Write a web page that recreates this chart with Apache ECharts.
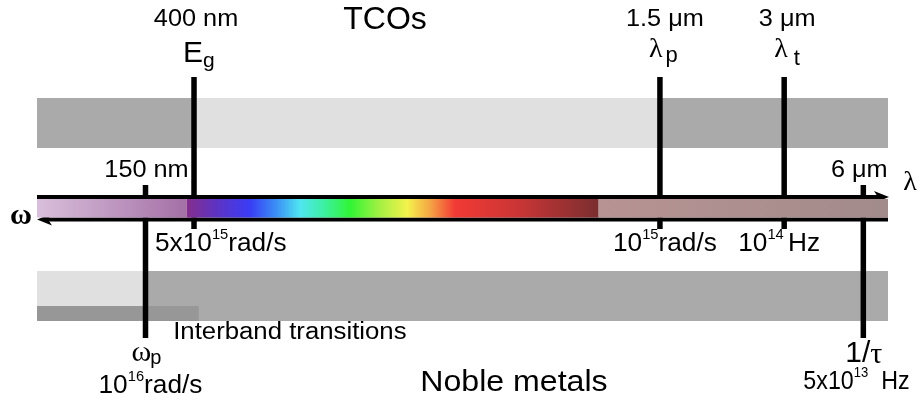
<!DOCTYPE html>
<html>
<head>
<meta charset="utf-8">
<script src="https://cdn.jsdelivr.net/npm/echarts@6/dist/echarts.min.js"></script>
<style>
  html, body { margin: 0; padding: 0; background: #fff; }
  #main { width: 919px; height: 403px; }
</style>
</head>
<body>
<div id="main"></div>
<script>
// ---------------------------------------------------------------
// Data: positions along a schematic spectral axis
// (0 = short-wavelength / high-frequency end, 100 = long-wavelength end)
// ---------------------------------------------------------------
const markerSymbols   = [['ω', 'p'], ['E', 'g'], ['λ', 'p'], ['λ', 't'], ['1/τ', '']];
const markerMaterial  = ['metal', 'tco', 'tco', 'tco', 'metal'];
const markerPos       = [12.75, 18.45, 73.2, 87.8, 97.1];
const wavelengthTicks = ['150 nm', '400 nm', '1.5 μm', '3 μm', '6 μm'];
// [mantissa, exponent, unit]
const frequencyTicks  = [['10', '16', 'rad/s'], ['5x10', '15', 'rad/s'], ['10', '15', 'rad/s'],
                         ['10', '14', 'Hz'], ['5x10', '13', 'Hz']];

// TCO behaviour band
const tcoEdges  = [0, 18.45, 73.2, 100];
const tcoState  = ['absorbing', 'transparent', 'reflecting'];
// Noble-metal behaviour band
const metalEdges = [0, 12.75, 100];
const metalState = ['transparent', 'reflecting'];
const interbandRange = [0, 19.0];

// Spectrum strip: UV / visible / IR
const uvStops = [[0, '#d9bfdb'], [17.6, '#a470a6']];
const visibleStops = [[17.6, '#852e8c'], [21, '#5f33c2'], [25, '#3a3cf5'], [28, '#3a8cf5'],
                      [30.9, '#50e5f2'], [33.8, '#3cf0a0'], [36.8, '#30f535'], [40.3, '#a5f044'],
                      [43.5, '#f3f24c'], [46.2, '#f5a545'], [49.1, '#f23a35'], [56.8, '#c83535'],
                      [66.0, '#7a2e30']];
const irStops = [[66.0, '#b89393'], [100, '#a28b8b']];

const labelTitles = ['TCOs', 'Noble metals', 'Interband transitions'];
const axisSymbols = ['ω', 'λ'];

// ---------------------------------------------------------------
// Layout & styles
// ---------------------------------------------------------------
const SANS = '"Liberation Sans", Arial, sans-serif';
const SERIF = '"Liberation Serif", "Times New Roman", serif';
const shade = { absorbing: '#aaaaaa', reflecting: '#aaaaaa', transparent: '#e0e0e0' };
const ROW = {
  tcoTop: 98, tcoBottom: 148,
  metalTop: 271, metalBottom: 321, interbandTop: 306,
  axisTop: 197, axisBottom: 219.5,
  stripTop: 199, stripBottom: 217.5,
  tcoLineTop: 77, tcoLineBottom: 229,
  metalLineTop: 185, metalLineBottom: 338
};

const measureCtx = document.createElement('canvas').getContext('2d');
function measure(text, size, family, weight) {
  measureCtx.font = (weight || 'normal') + ' ' + size + 'px ' + family;
  return measureCtx.measureText(text).width;
}

// Lay out text pieces side by side (for sub/superscripts)
function inlineText(pieces, x, y, align, scaleX) {
  let w = 0;
  const pos = [];
  pieces.forEach(function (p) {
    w += p.gap || 0;
    pos.push(w);
    w += measure(p.t, p.size, p.family || SANS, p.weight);
  });
  const start = align === 'center' ? -w / 2 : (align === 'right' ? -w : 0);
  return {
    type: 'group', x: x, y: y, scaleX: scaleX || 1,
    children: pieces.map(function (p, i) {
      return {
        type: 'text', x: start + pos[i], y: p.dy || 0,
        style: {
          text: p.t, fontSize: p.size, fontFamily: p.family || SANS,
          fontWeight: p.weight || 'normal', fill: '#000',
          align: 'left', verticalAlign: 'middle'
        }
      };
    })
  };
}

function segRect(api, x0, x1, top, bottom) {
  const a = api.coord([x0, top]);
  const b = api.coord([x1, bottom]);
  return { x: a[0], y: a[1], width: b[0] - a[0], height: b[1] - a[1] };
}

function gradientSeg(stops) {
  const x0 = stops[0][0], x1 = stops[stops.length - 1][0];
  return new echarts.graphic.LinearGradient(0, 0, 1, 0, stops.map(function (s) {
    return { offset: (s[0] - x0) / (x1 - x0), color: s[1] };
  }));
}

function arrowHead(tipX, y, dir) {
  const L = 15, H = 6, N = 11;
  return [[tipX, y], [tipX - dir * L, y - H], [tipX - dir * N, y], [tipX - dir * L, y + H]];
}

const chart = echarts.init(document.getElementById('main'), null, { renderer: 'canvas' });

const option = {
  animation: false,
  backgroundColor: '#fff',
  grid: { left: 37, right: 31, top: 0, bottom: 0 },
  xAxis: { type: 'value', min: 0, max: 100, show: false },
  yAxis: { type: 'value', min: 0, max: 403, inverse: true, show: false },
  series: [
    // TCO band
    {
      type: 'custom', silent: true, z: 1,
      data: tcoState.map(function (s, i) { return [tcoEdges[i], tcoEdges[i + 1], i]; }),
      renderItem: function (params, api) {
        return { type: 'rect', shape: segRect(api, api.value(0), api.value(1), ROW.tcoTop, ROW.tcoBottom),
                 style: { fill: shade[tcoState[api.value(2)]] } };
      }
    },
    // Noble metal band
    {
      type: 'custom', silent: true, z: 1,
      data: metalState.map(function (s, i) { return [metalEdges[i], metalEdges[i + 1], i]; }),
      renderItem: function (params, api) {
        return { type: 'rect', shape: segRect(api, api.value(0), api.value(1), ROW.metalTop, ROW.metalBottom),
                 style: { fill: shade[metalState[api.value(2)]] } };
      }
    },
    // Interband transitions strip
    {
      type: 'custom', silent: true, z: 2,
      data: [interbandRange],
      renderItem: function (params, api) {
        return { type: 'rect', shape: segRect(api, api.value(0), api.value(1), ROW.interbandTop, ROW.metalBottom),
                 style: { fill: '#979797' } };
      }
    },
    // Marker lines (interrupted by the spectrum strip)
    {
      type: 'custom', silent: true, z: 3,
      data: markerPos.map(function (p, i) { return [p, i]; }),
      renderItem: function (params, api) {
        const i = api.value(1);
        const tco = markerMaterial[i] === 'tco';
        const x = api.value(0);
        const a = api.coord([x, tco ? ROW.tcoLineTop : ROW.metalLineTop]);
        const s0 = api.coord([x, ROW.stripTop]);
        const s1 = api.coord([x, ROW.stripBottom]);
        const b = api.coord([x, tco ? ROW.tcoLineBottom : ROW.metalLineBottom]);
        const st = { stroke: '#000', lineWidth: 5.5 };
        return { type: 'group', children: [
          { type: 'line', shape: { x1: a[0], y1: a[1], x2: s0[0], y2: s0[1] }, style: st },
          { type: 'line', shape: { x1: s1[0], y1: s1[1], x2: b[0], y2: b[1] }, style: st }
        ] };
      }
    },
    // Wavelength (→) and frequency (←) axes
    {
      type: 'custom', silent: true, z: 4,
      data: [[0, 100]],
      renderItem: function (params, api) {
        const l = api.coord([api.value(0), ROW.axisTop]);
        const r = api.coord([api.value(1), ROW.axisTop]);
        const yb = api.coord([0, ROW.axisBottom])[1];
        return { type: 'group', children: [
          { type: 'line', shape: { x1: l[0], y1: l[1], x2: r[0] - 8, y2: l[1] }, style: { stroke: '#000', lineWidth: 4 } },
          { type: 'polygon', shape: { points: arrowHead(r[0] + 1, l[1], 1) }, style: { fill: '#000' } },
          { type: 'line', shape: { x1: l[0] + 8, y1: yb, x2: r[0], y2: yb }, style: { stroke: '#000', lineWidth: 4 } },
          { type: 'polygon', shape: { points: arrowHead(l[0], yb, -1) }, style: { fill: '#000' } }
        ] };
      }
    },
    // Spectrum strip
    {
      type: 'custom', silent: true, z: 5,
      data: [0, 1, 2],
      renderItem: function (params, api) {
        const stops = [uvStops, visibleStops, irStops][params.dataIndex];
        return { type: 'rect',
                 shape: segRect(api, stops[0][0], stops[stops.length - 1][0], ROW.stripTop, ROW.stripBottom),
                 style: { fill: gradientSeg(stops) } };
      }
    },
    // Text
    {
      type: 'custom', silent: true, z: 6,
      data: [0],
      renderItem: function (params, api) {
        const X = function (p) { return api.coord([p, 0])[0]; };
        const Y = function (v) { return api.coord([0, v])[1]; };
        const kids = [];

        // wavelength ticks
        const wlOffset = [1, 2, 5, 3, -4];
        wavelengthTicks.forEach(function (t, i) {
          const row = markerMaterial[i] === 'tco' ? 20 : 171;
          kids.push(inlineText([{ t: t, size: 23 }], X(markerPos[i]) + wlOffset[i], Y(row), 'center', 1.1));
        });

        // marker symbols
        const symLayout = [
          { dx: -14, row: 353, main: { size: 30, family: SERIF }, sub: { size: 20, dy: 5, gap: -1 } },
          { dx: -11, row: 54,  main: { size: 30 },                sub: { size: 21, dy: 7, gap: 0 } },
          { dx: -11, row: 50,  main: { size: 28, family: SERIF }, sub: { size: 22, dy: 6, gap: 3 } },
          { dx: -10, row: 50,  main: { size: 28, family: SERIF }, sub: { size: 22, dy: 9, gap: 6 } },
          { dx: -18, row: 354, main: { size: 30 },                sub: { size: 30, dy: 0, gap: 0 } }
        ];
        markerSymbols.forEach(function (s, i) {
          const L = symLayout[i];
          const pieces = [];
          if (s[0] === '1/τ') {
            pieces.push({ t: '1/', size: 30 });
            pieces.push({ t: 'τ', size: 30, family: SERIF, dy: 1 });
          } else {
            pieces.push(Object.assign({ t: s[0] }, L.main));
            pieces.push(Object.assign({ t: s[1] }, L.sub));
          }
          kids.push(inlineText(pieces, X(markerPos[i]) + L.dx, Y(L.row), 'left', 1));
        });

        // frequency ticks
        const fqLayout = [
          { dx: -47, row: 386, gap: 0, scale: 1.05 },
          { dx: -39, row: 244, gap: 0, scale: 1.05 },
          { dx: -47, row: 244, gap: 0, scale: 1.05 },
          { dx: -46, row: 244, gap: 4, scale: 1.05 },
          { dx: -60, row: 382, gap: 14, scale: 0.93 }
        ];
        frequencyTicks.forEach(function (f, i) {
          const L = fqLayout[i];
          kids.push(inlineText([
            { t: f[0], size: 25 },
            { t: f[1], size: 14, dy: -9 },
            { t: f[2], size: 25, gap: L.gap }
          ], X(markerPos[i]) + L.dx, Y(L.row), 'left', L.scale));
        });

        // band titles
        kids.push(inlineText([{ t: labelTitles[0], size: 32 }], X(40.9), Y(20), 'center', 1));
        kids.push(inlineText([{ t: labelTitles[1], size: 30 }], X(56.05), Y(383), 'center', 1.07));
        kids.push(inlineText([{ t: labelTitles[2], size: 23 }], X(16.0), Y(333), 'left', 1.12));

        // axis symbols
        kids.push(inlineText([{ t: axisSymbols[0], size: 30, family: SERIF, weight: 'bold' }], X(0) - 16, Y(216), 'center', 1));
        kids.push(inlineText([{ t: axisSymbols[1], size: 28, family: SERIF }], X(100) + 22, Y(183), 'center', 1));

        return { type: 'group', children: kids };
      }
    }
  ]
};

chart.setOption(option);
</script>
</body>
</html>
